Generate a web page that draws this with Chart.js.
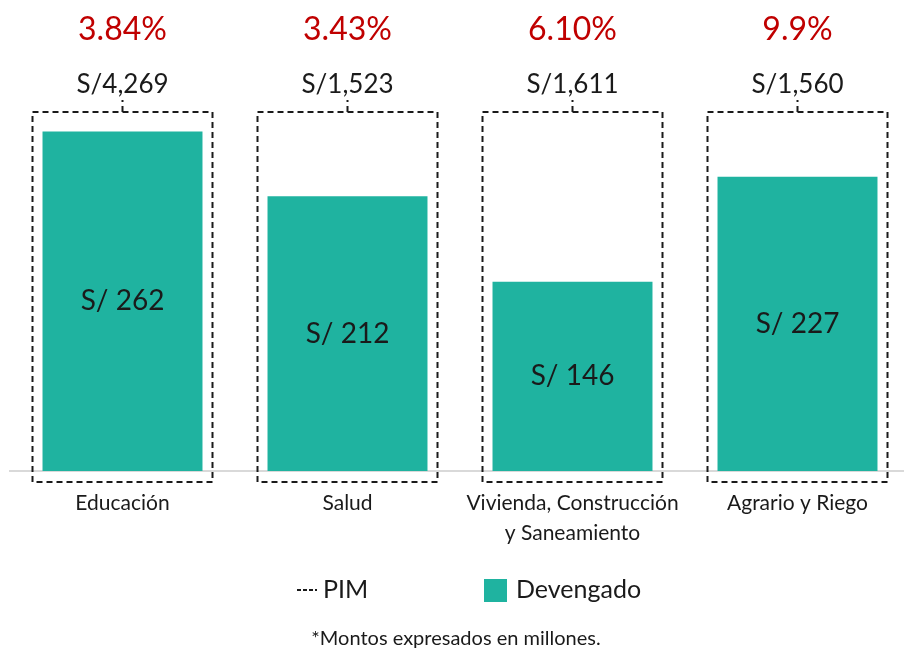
<!DOCTYPE html>
<html>
<head>
<meta charset="utf-8">
<script src="https://cdn.jsdelivr.net/npm/chart.js@4.4.1/dist/chart.umd.min.js"></script>
<style>
  body { margin: 0; background: #fff; overflow: hidden; }
  #caja { width: 915px; height: 651px; }
</style>
</head>
<body>
<div id="caja"><canvas id="grafico"></canvas></div>
<script>
//------ Datos ------//
let categorias = ['Educación', 'Salud', ['Vivienda, Construcción', 'y Saneamiento'], 'Agrario y Riego'];
let devengado = [262, 212, 146, 227];
let pim = [4269, 1523, 1611, 1560];
let porcentajes = ['3.84%', '3.43%', '6.10%', '9.9%'];

let verde = '#1FB3A0';
let rojo = '#C00000';
let fuente = 'Lato, "Noto Sans", sans-serif';

//------ Cajas PIM, etiquetas y leyenda ------//
const pluginPIM = {
  id: 'pim',
  afterDatasetsDraw(chart) {
    const ctx = chart.ctx;
    const area = chart.chartArea;
    const xs = chart.scales.x;
    const ancho = area.width / categorias.length * 0.8;
    const meta = chart.getDatasetMeta(0);

    ctx.save();
    // valores dentro de las barras
    ctx.fillStyle = '#1a1a1a';
    ctx.textAlign = 'center';
    ctx.textBaseline = 'middle';
    ctx.font = '28px ' + fuente;
    meta.data.forEach(function (barra, i) {
      ctx.fillText('S/ ' + devengado[i], barra.x, (barra.y + barra.base) / 2);
    });

    for (let i = 0; i < pim.length; i++) {
      let cx = xs.getPixelForValue(i);
      ctx.strokeStyle = '#1a1a1a';
      ctx.lineWidth = 2;
      ctx.setLineDash([6, 4]);
      ctx.strokeRect(cx - ancho / 2, area.top, ancho, area.bottom - area.top + 11);
      ctx.beginPath();
      ctx.moveTo(cx, area.top);
      ctx.lineTo(cx, area.top - 12);
      ctx.stroke();
      ctx.setLineDash([]);

      ctx.fillStyle = '#1a1a1a';
      ctx.font = '26px ' + fuente;
      ctx.fillText('S/' + pim[i].toLocaleString('en-US'), cx, area.top - 27);
      ctx.fillStyle = rojo;
      ctx.font = '32px ' + fuente;
      ctx.fillText(porcentajes[i], cx, area.top - 82);
    }

    // leyenda
    let ly = 590;
    ctx.strokeStyle = '#1a1a1a';
    ctx.lineWidth = 2;
    ctx.setLineDash([4, 2]);
    ctx.beginPath();
    ctx.moveTo(297, ly);
    ctx.lineTo(317, ly);
    ctx.stroke();
    ctx.setLineDash([]);
    ctx.fillStyle = '#1a1a1a';
    ctx.textAlign = 'left';
    ctx.font = '25px ' + fuente;
    ctx.fillText('PIM', 323, ly);
    ctx.fillStyle = verde;
    ctx.fillRect(484, ly - 11, 23, 23);
    ctx.fillStyle = '#1a1a1a';
    ctx.fillText('Devengado', 516, ly);

    // nota
    ctx.textAlign = 'center';
    ctx.font = '20px ' + fuente;
    ctx.fillText('*Montos expresados en millones.', 456, 639);
    ctx.restore();
  }
};

let ctx = document.querySelector('#grafico');
let grafico = new Chart(ctx, {
  type: 'bar',
  data: {
    labels: categorias,
    datasets: [{
      label: 'Devengado',
      data: devengado,
      backgroundColor: verde,
      barPercentage: 0.711,
      categoryPercentage: 1
    }]
  },
  options: {
    responsive: true,
    maintainAspectRatio: false,
    animation: false,
    layout: { padding: { top: 112, left: 10, right: 5, bottom: 0 } },
    plugins: {
      legend: { display: false },
      tooltip: { enabled: false }
    },
    scales: {
      x: {
        grid: { display: false },
        border: { display: true, color: '#D9D9D9', width: 2 },
        ticks: {
          color: '#1a1a1a',
          padding: 10,
          maxRotation: 0,
          autoSkip: false,
          font: { family: fuente, size: 21, lineHeight: 1.4 }
        },
        afterFit: function (escala) { escala.height = 180; }
      },
      y: {
        display: false,
        min: 0,
        max: 277
      }
    }
  },
  plugins: [pluginPIM]
});
</script>
</body>
</html>
